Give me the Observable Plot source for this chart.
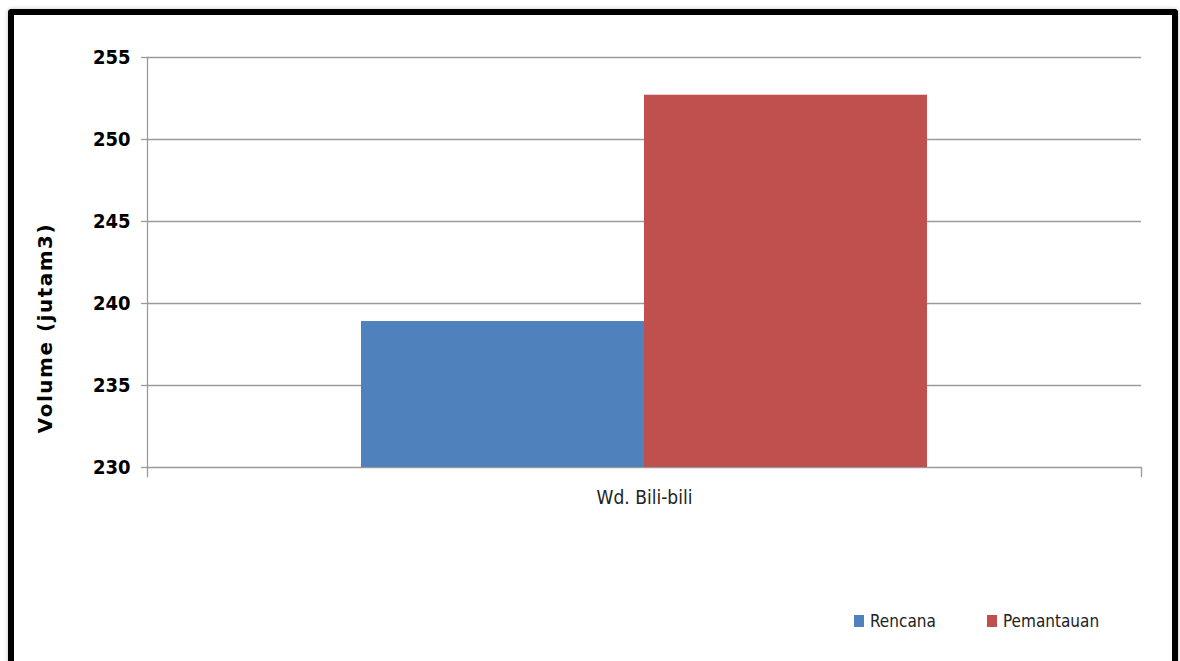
<!DOCTYPE html>
<html>
<head>
<meta charset="utf-8">
<script src="https://cdn.jsdelivr.net/npm/d3@7"></script>
<script src="https://cdn.jsdelivr.net/npm/@observablehq/plot@0.6"></script>
<style>
  html, body { margin: 0; padding: 0; background: #fff; }
  body { width: 1180px; height: 661px; overflow: hidden; position: relative; }
  #frame { position: absolute; left: 8px; top: 9px; width: 1170px; height: 700px; box-sizing: border-box;
    border: 6px solid #000; border-bottom: none; border-radius: 4px 4px 0 0;
    box-shadow: 0 0 4px rgba(0,0,0,0.25); }
  #chart { position: absolute; left: 0; top: 0; }
  #ylabel { position: absolute; left: 45px; top: 328px; transform: translate(-50%, -50%) rotate(-90deg);
    font-family: "DejaVu Sans", sans-serif; font-weight: bold; font-size: 20px; letter-spacing: 1.5px; white-space: nowrap; color: #000; }
  .leg { position: absolute; top: 611px; font-family: "Liberation Sans Narrow", "DejaVu Sans Condensed", sans-serif; font-size: 17px; color: #222; white-space: nowrap; display: flex; align-items: center; }
  .sw { display: inline-block; width: 10px; height: 12px; margin-right: 6px; }
</style>
</head>
<body>
<div id="frame"></div>
<div id="chart"></div>
<div id="ylabel">Volume (jutam3)</div>
<div id="legend"></div>
<script>
const categories = ["Wd. Bili-bili"];
const seriesNames = ["Rencana", "Pemantauan"];
const rencana = [238.9];
const pemantauan = [252.7];
const seriesColors = ["#4F81BD", "#C0504D"];
const yTicks = [230, 235, 240, 245, 250, 255];
const yDomain = [230, 255];
const yLabel = "Volume (jutam3)";

const data = [];
categories.forEach((c, i) => {
  data.push({category: c, series: seriesNames[0], value: rencana[i]});
  data.push({category: c, series: seriesNames[1], value: pemantauan[i]});
});

const chart = Plot.plot({
  width: 1180,
  height: 520,
  marginLeft: 147,
  marginRight: 39,
  marginTop: 57,
  marginBottom: 53,
  style: {background: "transparent", overflow: "visible"},
  fx: {domain: categories, padding: 0},
  x: {domain: seriesNames, paddingInner: 0, paddingOuter: 0.753, axis: null},
  y: {domain: yDomain, ticks: yTicks},
  color: {domain: seriesNames, range: seriesColors},
  marks: [
    Plot.gridY(yTicks, {stroke: "#9a9a9a", strokeOpacity: 1, strokeWidth: 1.3}),
    Plot.barY(data, {fx: "category", x: "series", y: "value", fill: "series", clip: true, insetLeft: 0, insetRight: 0}),
    Plot.frame({anchor: "left", stroke: "#9a9a9a", strokeWidth: 1.3, insetBottom: -9}),
    Plot.frame({anchor: "right", stroke: "#9a9a9a", strokeWidth: 1.3, insetBottom: -9, insetTop: 410}),
    Plot.axisY(yTicks, {anchor: "left", tickSize: 6, tickPadding: 11, stroke: "#9a9a9a", strokeWidth: 1.3,
      label: null, fontSize: 20, fontWeight: "bold", fill: "#000",
      fontFamily: "'DejaVu Sans Condensed', sans-serif"}),
    Plot.axisFx({anchor: "bottom", tickSize: 0, tickPadding: 23, label: null, fontSize: 19, fill: "#222",
      fontFamily: "'Liberation Sans Narrow', 'DejaVu Sans Condensed', sans-serif"})
  ]
});
document.getElementById("chart").appendChild(chart);
document.getElementById("ylabel").textContent = yLabel;

const legend = document.getElementById("legend");
const legX = [854, 987];
seriesNames.forEach((s, i) => {
  const d = document.createElement("div");
  d.className = "leg";
  d.style.left = legX[i] + "px";
  d.innerHTML = `<span class="sw" style="background:${seriesColors[i]}"></span><span>${s}</span>`;
  legend.appendChild(d);
});
</script>
</body>
</html>
